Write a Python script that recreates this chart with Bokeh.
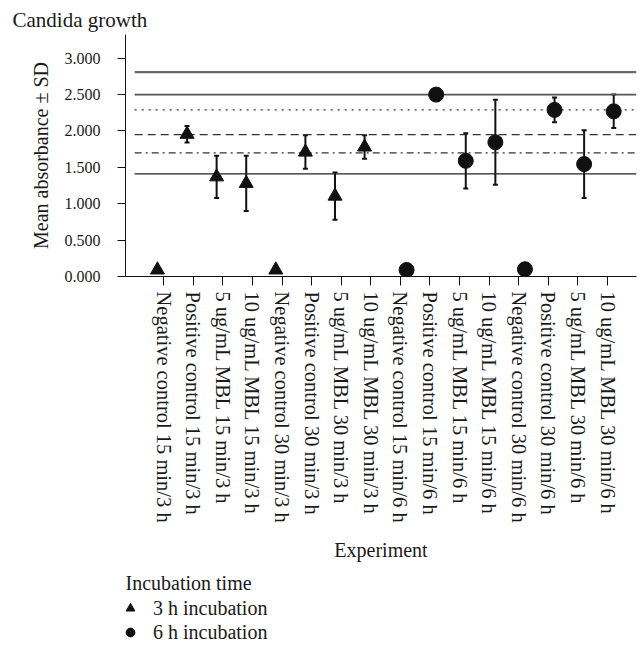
from bokeh.plotting import figure
from bokeh.layouts import column
from bokeh.models import (Range1d, ColumnDataSource, Whisker, TeeHead, Legend, LegendItem,
                          FixedTicker, PrintfTickFormatter, Title, Label)
from bokeh.embed import file_html
from bokeh.resources import INLINE

# ---------------- data ----------------
categories = [
    "Negative control 15 min/3 h", "Positive control 15 min/3 h",
    "5 ug/mL MBL 15 min/3 h", "10 ug/mL MBL 15 min/3 h",
    "Negative control 30 min/3 h", "Positive control 30 min/3 h",
    "5 ug/mL MBL 30 min/3 h", "10 ug/mL MBL 30 min/3 h",
    "Negative control 15 min/6 h", "Positive control 15 min/6 h",
    "5 ug/mL MBL 15 min/6 h", "10 ug/mL MBL 15 min/6 h",
    "Negative control 30 min/6 h", "Positive control 30 min/6 h",
    "5 ug/mL MBL 30 min/6 h", "10 ug/mL MBL 30 min/6 h",
]
idx_3h = [0, 1, 2, 3, 4, 5, 6, 7]
mean_3h = [0.09, 1.955, 1.37, 1.28, 0.09, 1.71, 1.105, 1.78]
sd_3h = [0.0, 0.115, 0.29, 0.38, 0.0, 0.23, 0.325, 0.16]
idx_6h = [8, 9, 10, 11, 12, 13, 14, 15]
mean_6h = [0.09, 2.50, 1.59, 1.845, 0.10, 2.29, 1.545, 2.27]
sd_6h = [0.0, 0.0, 0.38, 0.585, 0.0, 0.17, 0.465, 0.23]
ref_levels = [2.81, 2.50, 2.29, 1.95, 1.70, 1.41]
y_ticks = [0.0, 0.5, 1.0, 1.5, 2.0, 2.5, 3.0]
series_labels = ["3 h incubation", "6 h incubation"]
legend_title = "Incubation time"

# ---------------- styles ----------------
FONT = "Liberation Serif"
INK = "#111111"
level_styles = [
    dict(line_color="#6a6a6a", line_width=2.2, line_dash="solid"),
    dict(line_color="#555555", line_width=1.6, line_dash="solid"),
    dict(line_color="#333333", line_width=1.2, line_dash="2 5"),
    dict(line_color="#333333", line_width=1.3, line_dash="8 5"),
    dict(line_color="#333333", line_width=1.3, line_dash="7 4 2 4"),
    dict(line_color="#222222", line_width=1.3, line_dash="solid"),
]
dodge = 0.21

p = figure(frame_width=511, frame_height=242, output_backend="svg", toolbar_location=None,
           x_range=Range1d(-1.29, 15.98), y_range=Range1d(0, 3.326),
           min_border_left=125, min_border_right=6, min_border_top=34, min_border_bottom=290)
p.outline_line_color = None
p.grid.visible = False
p.background_fill_color = "white"

# reference lines
for lvl, st in zip(ref_levels, level_styles):
    p.segment(x0=-0.98, y0=lvl, x1=15.98, y1=lvl, **st)

# error bars
def whisk(idx, mean, sd, off):
    xs, up, lo = [], [], []
    for i, m, s in zip(idx, mean, sd):
        if s > 0:
            xs.append(i + off); up.append(m + s); lo.append(m - s)
    src = ColumnDataSource(dict(x=xs, upper=up, lower=lo))
    w = Whisker(source=src, base="x", upper="upper", lower="lower", dimension="height",
                line_color=INK, line_width=2,
                upper_head=TeeHead(size=5, line_width=2, line_color=INK),
                lower_head=TeeHead(size=5, line_width=2, line_color=INK))
    p.add_layout(w)

whisk(idx_3h, mean_3h, sd_3h, -dodge)
whisk(idx_6h, mean_6h, sd_6h, dodge)

src3 = ColumnDataSource(dict(x=[i - dodge for i in idx_3h], y=mean_3h))
src6 = ColumnDataSource(dict(x=[i + dodge for i in idx_6h], y=mean_6h))
p.scatter("x", "y", source=src3, marker="triangle", size=14, fill_color=INK, line_color=INK)
p.scatter("x", "y", source=src6, marker="circle", size=15, fill_color=INK, line_color=INK)

# axes
xa = p.xaxis[0]
xa.ticker = FixedTicker(ticks=list(range(len(categories))))
xa.major_label_overrides = {i: c for i, c in enumerate(categories)}
xa.major_label_orientation = "vertical"
xa.major_label_text_font = FONT
xa.major_label_text_font_size = "20.5px"
xa.major_label_text_color = "#1a1a1a"
xa.major_tick_out = 9
xa.major_tick_in = 0
xa.minor_tick_line_color = None
xa.major_label_standoff = 6
xa.axis_label = "Experiment"
xa.axis_label_text_font = FONT
xa.axis_label_text_font_size = "20px"
xa.axis_label_text_font_style = "normal"
xa.axis_label_text_color = "#1a1a1a"
xa.axis_label_standoff = 13
xa.axis_line_color = INK
xa.major_tick_line_color = INK

ya = p.yaxis[0]
ya.ticker = FixedTicker(ticks=y_ticks)
ya.formatter = PrintfTickFormatter(format="%.3f")
ya.major_label_text_font = FONT
ya.major_label_text_font_size = "16px"
ya.major_label_text_color = "#1a1a1a"
ya.major_tick_out = 8
ya.major_tick_in = 0
ya.minor_tick_line_color = None
ya.major_label_standoff = 17
ya.axis_label = "Mean absorbance ± SD"
ya.axis_label_text_font = FONT
ya.axis_label_text_font_size = "20px"
ya.axis_label_text_font_style = "normal"
ya.axis_label_text_color = "#1a1a1a"
ya.axis_label_standoff = 10
ya.axis_line_color = INK
ya.major_tick_line_color = INK

# title
t = Title(text="Candida growth", align="left", offset=-113, standoff=5,
          text_font=FONT, text_font_size="21px", text_font_style="normal",
          text_color="#1a1a1a")
p.add_layout(t, "above")

# ---------------- legend strip ----------------
# (its ranges lie far from the data, so the shared sources only feed the legend glyphs)
LH = 81
lg = figure(frame_width=511, frame_height=LH, output_backend="svg", toolbar_location=None,
            x_axis_location=None, y_axis_location=None,
            x_range=Range1d(100, 101), y_range=Range1d(100, 101),
            min_border_left=125, min_border_right=6, min_border_top=0, min_border_bottom=0)
lg.outline_line_color = None
lg.grid.visible = False
e3 = lg.scatter("x", "y", source=src3, marker="triangle", size=14, fill_color=INK, line_color=INK)
e6 = lg.scatter("x", "y", source=src6, marker="circle", size=15, fill_color=INK, line_color=INK)

lg.add_layout(Label(x=0, y=LH - 16, x_units="screen", y_units="screen", text=legend_title,
                    text_font=FONT, text_font_size="20px", text_color="#1a1a1a",
                    text_baseline="middle", text_align="left"))
leg = Legend(items=[LegendItem(label=series_labels[0], renderers=[e3]),
                    LegendItem(label=series_labels[1], renderers=[e6])],
             location=(-6, 3), orientation="vertical",
             label_text_font=FONT, label_text_font_size="20px", label_text_color="#1a1a1a",
             glyph_width=22, glyph_height=24, label_height=24, label_standoff=12, spacing=0,
             padding=0, margin=0, border_line_color=None, background_fill_alpha=0)
lg.add_layout(leg)

layout = column(p, lg, spacing=0)
open("out.html", "w").write(file_html(layout, INLINE))
